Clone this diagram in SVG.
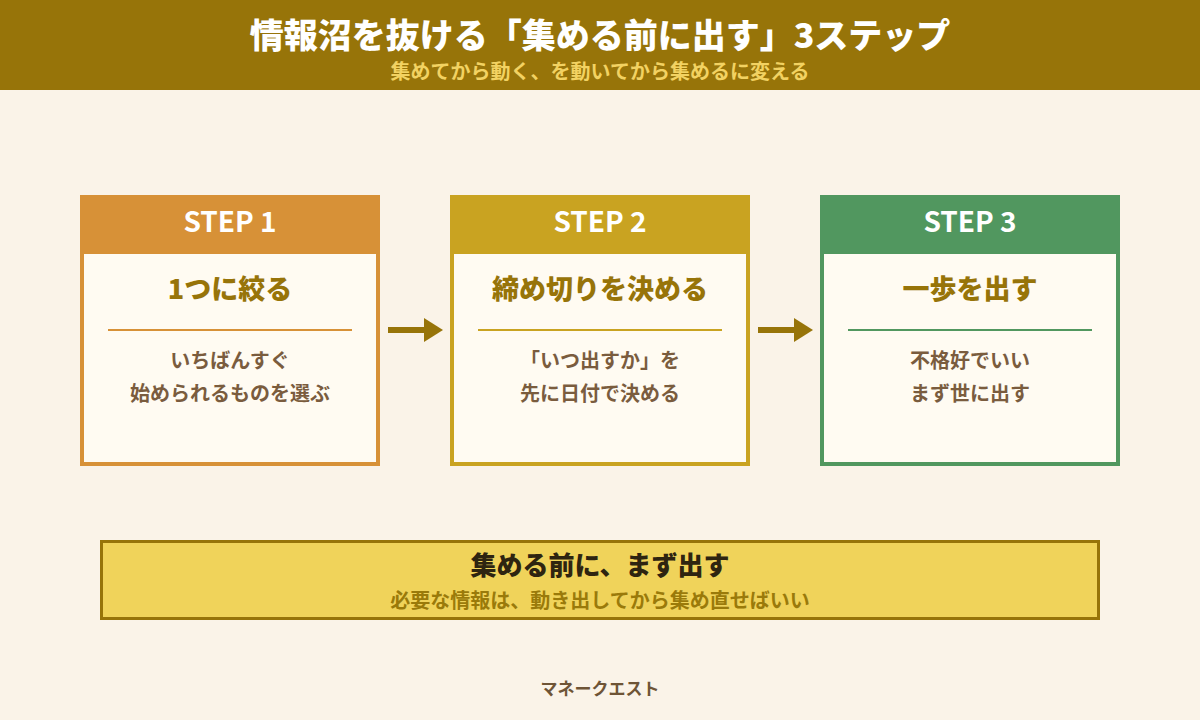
<svg xmlns="http://www.w3.org/2000/svg" width="1200" height="720" viewBox="0 0 1200 720">
<style>
text{font-family:"Noto Sans CJK JP","Noto Sans",sans-serif;text-anchor:middle}
.title{font-size:34px;font-weight:900;fill:#ffffff}
.sub{font-size:20px;font-weight:700;fill:#F2D262}
.card{fill:#FFFBF2;stroke-width:4}
.step{font-size:28px;font-weight:700;fill:#ffffff}
.head{font-size:27px;font-weight:900;fill:#977409}
.body{font-size:20px;font-weight:700;fill:#7A5C3E}
.div{stroke-width:2}
.arrow{fill:#977409}
</style>
<rect x="0" y="0" width="1200" height="720" fill="#FAF3E8"/>
<g id="header">
<rect x="0" y="0" width="1200" height="90" fill="#977409"/>
<text class="title" x="600" y="48">情報沼を抜ける「集める前に出す」3ステップ</text>
<text class="sub" x="600" y="79">集めてから動く、を動いてから集めるに変える</text>
</g>
<g id="step1">
<rect class="card" x="82" y="197" width="296" height="267" stroke="#D79137"/>
<rect x="80" y="195" width="300" height="59" fill="#D79137"/>
<text class="step" x="230" y="232">STEP 1</text>
<text class="head" x="230" y="299">1つに絞る</text>
<line class="div" x1="108" y1="330" x2="352" y2="330" stroke="#D79137"/>
<text class="body" x="230" y="368">いちばんすぐ</text>
<text class="body" x="230" y="401">始められるものを選ぶ</text>
</g>
<g id="step2">
<rect class="card" x="452" y="197" width="296" height="267" stroke="#C9A321"/>
<rect x="450" y="195" width="300" height="59" fill="#C9A321"/>
<text class="step" x="600" y="232">STEP 2</text>
<text class="head" x="600" y="299">締め切りを決める</text>
<line class="div" x1="478" y1="330" x2="722" y2="330" stroke="#C9A321"/>
<text class="body" x="600" y="368">「いつ出すか」を</text>
<text class="body" x="600" y="401">先に日付で決める</text>
</g>
<g id="step3">
<rect class="card" x="822" y="197" width="296" height="267" stroke="#51975F"/>
<rect x="820" y="195" width="300" height="59" fill="#51975F"/>
<text class="step" x="970" y="232">STEP 3</text>
<text class="head" x="970" y="299">一歩を出す</text>
<line class="div" x1="848" y1="330" x2="1092" y2="330" stroke="#51975F"/>
<text class="body" x="970" y="368">不格好でいい</text>
<text class="body" x="970" y="401">まず世に出す</text>
</g>
<g id="connectors">
<rect class="arrow" x="388" y="327" width="38" height="6"/>
<polygon class="arrow" points="424,318 443,330 424,342"/>
<rect class="arrow" x="758" y="327" width="38" height="6"/>
<polygon class="arrow" points="794,318 813,330 794,342"/>
</g>
<g id="summary">
<rect x="101.5" y="541.5" width="997" height="77" fill="#F0D35A" stroke="#977409" stroke-width="3"/>
<text x="600" y="575" font-size="26" font-weight="900" fill="#2E2410">集める前に、まず出す</text>
<text x="600" y="608" font-size="20" font-weight="700" fill="#9A7A0A">必要な情報は、動き出してから集め直せばいい</text>
</g>
<g id="footer">
<text x="600" y="695" font-size="17" font-weight="700" fill="#6E5436">マネークエスト</text>
</g>
</svg>
